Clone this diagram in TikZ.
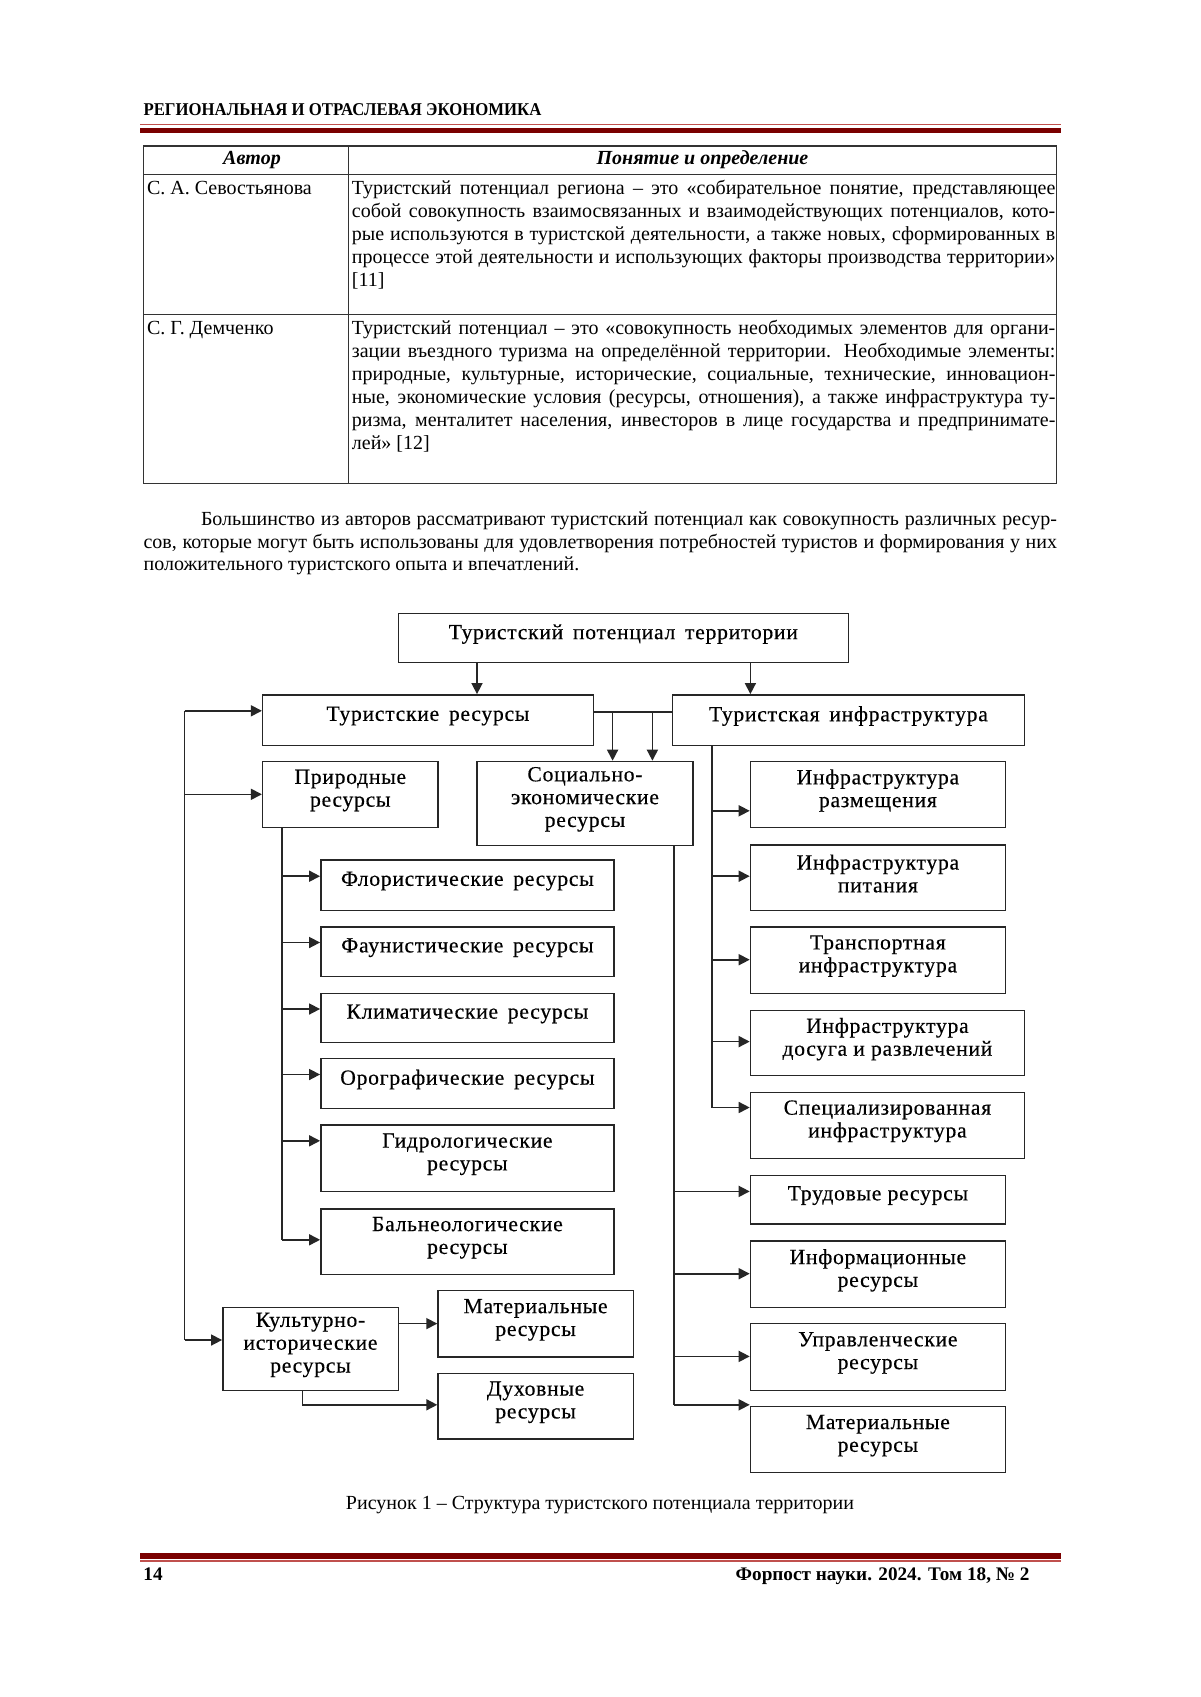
\documentclass[tikz,border=0pt]{standalone}
\usepackage{fontspec}
\setmainfont{Liberation Serif}
\newfontfamily\dfam{Liberation Serif}[LetterSpace=3.5, FakeBold=0.4]
\usetikzlibrary{arrows.meta}
\definecolor{bandred}{HTML}{7A0000}
\definecolor{thinred}{HTML}{C0504D}
\newcommand\tfont{\fontsize{10}{11.6}\selectfont}
\newcommand\dfont{\dfam\fontsize{10.8}{11.4}\selectfont}
\newcommand\hfont{\fontsize{9}{10}\selectfont\bfseries}
\newcommand\ffont{\fontsize{9.6}{10}\selectfont\bfseries}
\newcommand\gap{\hspace{0.45em}}
\newcommand\jl[2]{\makebox[#1][s]{#2}}
\tikzset{
  box/.style={draw=black!85, line width=0.7pt, inner sep=0pt},
  btxt/.style={align=center, inner sep=0pt, font=\dfont},
  ln/.style={draw=black!85, line width=0.8pt},
  arr/.style={ln, -{Triangle[length=5.5pt,width=5.5pt]}},
  tbl/.style={draw=black!80, line width=0.7pt},
  tl/.style={anchor=base west, inner sep=0pt, font=\tfont},
}
% name, x1, y1, x2, y2, text
\newcommand\bxt[6]{%
  \node[box, minimum width={(#4-#2)*0.5pt}, minimum height={(#5-#3)*0.5pt}] (#1) at ({(#2+#4)/2},{(#3+#5)/2}) {};
  \node[btxt, yshift=2pt] (#1t) at (#1.center) {#6};
}
\begin{document}
\begin{tikzpicture}[x=0.5pt,y=-0.5pt]
\useasboundingbox (0,0) rectangle (1200,1697);
\fill[white] (0,0) rectangle (1200,1697);

% header
\node[anchor=base west, inner sep=0pt] (hdr) at (143.2,115) {\scalebox{0.93}[1]{\hfont РЕГИОНАЛЬНАЯ И ОТРАСЛЕВАЯ ЭКОНОМИКА}};
\fill[thinred] (140,123.6) rectangle (1060.5,125.2);
\fill[bandred] (140,127.5) rectangle (1060.5,133.2);

% table
\draw[tbl] (143.2,145.9) rectangle (1056.7,483.2);
\draw[tbl] (143.2,174.2) -- (1056.7,174.2);
\draw[tbl] (143.2,314.7) -- (1056.7,314.7);
\draw[tbl] (348.4,145.9) -- (348.4,483.2);
\node[anchor=base, inner sep=0pt, font=\tfont\bfseries\itshape] (th1) at (252,164) {Автор};
\node[anchor=base, inner sep=0pt, font=\tfont\bfseries\itshape] (th2) at (702.5,164) {Понятие и определение};

\node[tl] (a1) at (146.7,194) {С. А. Севостьянова};
\node[tl] (r1a) at (351.5,194) {\jl{351.75pt}{Туристский потенциал региона – это «собирательное понятие, представляющее}};
\node[tl] (r1b) at (351.5,217.1) {\jl{351.75pt}{собой совокупность взаимосвязанных и взаимодействующих потенциалов, кото-}};
\node[tl] (r1c) at (351.5,240.2) {\jl{351.75pt}{рые используются в туристской деятельности, а также новых, сформированных в}};
\node[tl] (r1d) at (351.5,263.3) {\jl{351.75pt}{процессе этой деятельности и использующих факторы производства территории»}};
\node[tl] (r1e) at (351.5,286.4) {[11]};

\node[tl] (a2) at (146.7,334) {С. Г. Демченко};
\node[tl] (r2a) at (351.5,334) {\jl{351.75pt}{Туристский потенциал – это «совокупность необходимых элементов для органи-}};
\node[tl] (r2b) at (351.5,357.1) {\jl{351.75pt}{зации въездного туризма на определённой территории. Необходимые элементы:}};
\node[tl] (r2c) at (351.5,380.2) {\jl{351.75pt}{природные, культурные, исторические, социальные, технические, инновацион-}};
\node[tl] (r2d) at (351.5,403.3) {\jl{351.75pt}{ные, экономические условия (ресурсы, отношения), а также инфраструктура ту-}};
\node[tl] (r2e) at (351.5,426.4) {\jl{351.75pt}{ризма, менталитет населения, инвесторов в лице государства и предпринимате-}};
\node[tl] (r2f) at (351.5,449.5) {лей» [12]};

% paragraph
\node[tl] (p1) at (200.6,525) {\jl{428pt}{Большинство из авторов рассматривают туристский потенциал как совокупность различных ресур-}};
\node[tl] (p2) at (143.2,548) {\jl{456.75pt}{сов, которые могут быть использованы для удовлетворения потребностей туристов и формирования у них}};
\node[tl] (p3) at (143.2,570.5) {положительного туристского опыта и впечатлений.};

% diagram boxes
\bxt{top}{398.2}{613.6}{848.4}{662.6}{Туристский\gap потенциал\gap территории}
\bxt{tres}{262.6}{694.8}{593.4}{745.3}{Туристские\gap ресурсы}
\bxt{tinf}{672.3}{694.8}{1024.5}{745.3}{Туристская\gap инфраструктура}
\bxt{prir}{262.6}{761.4}{438}{827.6}{Природные\\ресурсы}
\bxt{socio}{477}{761.4}{693}{845.2}{Социально-\\экономические\\ресурсы}
\bxt{flor}{320.8}{859.8}{614}{910.3}{Флористические\gap ресурсы}
\bxt{faun}{320.8}{926.8}{614}{976.5}{Фаунистические\gap ресурсы}
\bxt{klim}{320.8}{993.4}{614}{1042.4}{Климатические\gap ресурсы}
\bxt{orog}{320.8}{1058.5}{614}{1108.6}{Орографические\gap ресурсы}
\bxt{gidro}{320.8}{1125.1}{614}{1191.4}{Гидрологические\\ресурсы}
\bxt{baln}{320.8}{1209}{614}{1274.5}{Бальнеологические\\ресурсы}
\bxt{razm}{750.4}{761.4}{1005.4}{827.6}{Инфраструктура\\размещения}
\bxt{pit}{750.4}{844.8}{1005.4}{910.3}{Инфраструктура\\питания}
\bxt{transp}{750.4}{926.8}{1005.4}{993.4}{Транспортная\\инфраструктура}
\bxt{dosug}{750.4}{1010.6}{1024.5}{1075.7}{Инфраструктура\\досуга и развлечений}
\bxt{spec}{750.4}{1092.2}{1024.5}{1158.3}{Специализированная\\инфраструктура}
\bxt{trud}{750.4}{1175.4}{1005.4}{1223.8}{Трудовые ресурсы}
\bxt{inform}{750.4}{1241}{1005.4}{1307.6}{Информационные\\ресурсы}
\bxt{upr}{750.4}{1323.6}{1005.4}{1390.3}{Управленческие\\ресурсы}
\bxt{matr}{750.4}{1406.7}{1005.4}{1472.6}{Материальные\\ресурсы}
\bxt{kult}{222.8}{1307.6}{398.2}{1390.3}{Культурно-\\исторические\\ресурсы}
\bxt{matl}{438}{1290.5}{633.2}{1357.1}{Материальные\\ресурсы}
\bxt{duh}{438}{1373.5}{633.2}{1439}{Духовные\\ресурсы}

% connectors
\coordinate (ax1) at (477,0);
\coordinate (ax2) at (750.4,0);
\draw[arr] (top.south -| ax1) -- (tres.north -| ax1);
\draw[arr] (top.south -| ax2) -- (tinf.north -| ax2);
\coordinate (jr) at (0,712);
\draw[ln] (tres.east |- jr) -- (tinf.west |- jr);
\coordinate (sx1) at (612.6,712);
\coordinate (sx2) at (652.4,712);
\draw[arr] (sx1) -- (socio.north -| sx1);
\draw[arr] (sx2) -- (socio.north -| sx2);

\coordinate (L1) at (184.5,710.8);
\coordinate (L2) at (184.5,794.3);
\coordinate (L3) at (184.5,1340);
\draw[ln] (L1) -- (L3);
\draw[arr] (L1) -- (tres.west |- L1);
\draw[arr] (L2) -- (prir.west |- L2);
\draw[arr] (L3) -- (kult.west |- L3);

\coordinate (PB) at (281.8,1239.8);
\draw[ln] (prir.south -| PB) -- (PB);
\foreach \n/\yy in {flor/876.2, faun/942.5, klim/1009, orog/1074.5, gidro/1140.8, baln/1239.8}{
  \coordinate (pc) at (281.8,\yy);
  \draw[arr] (pc) -- (\n.west |- pc);
}

\coordinate (IB) at (712,1107.5);
\draw[ln] (tinf.south -| IB) -- (IB);
\foreach \n/\yy in {razm/810.8, pit/876.2, transp/959.7, dosug/1041.6, spec/1107.5}{
  \coordinate (ic) at (712,\yy);
  \draw[arr] (ic) -- (\n.west |- ic);
}

\coordinate (SB) at (673.8,1404.8);
\draw[ln] (socio.south -| SB) -- (SB);
\foreach \n/\yy in {trud/1191.4, inform/1273.7, upr/1356.4, matr/1404.8}{
  \coordinate (sc) at (673.8,\yy);
  \draw[arr] (sc) -- (\n.west |- sc);
}

\coordinate (K1) at (0,1323.6);
\draw[arr] (kult.east |- K1) -- (matl.west |- K1);
\coordinate (K2) at (302.5,1404.8);
\draw[arr] (kult.south -| K2) -- (K2) -- (duh.west |- K2);

% caption
\node[anchor=base, inner sep=0pt, font=\tfont] (cap) at (600,1509.5) {Рисунок 1 – Структура туристского потенциала территории};

% footer
\fill[bandred] (140,1552.6) rectangle (1060.5,1559);
\fill[thinred] (140,1560.2) rectangle (1060.5,1561.8);
\node[anchor=base west, inner sep=0pt] (pg) at (143,1580) {\ffont 14};
\node[anchor=base east, inner sep=0pt] (jrn) at (1030,1580) {\ffont Форпост науки. 2024. Том 18, № 2};
\end{tikzpicture}
\end{document}
